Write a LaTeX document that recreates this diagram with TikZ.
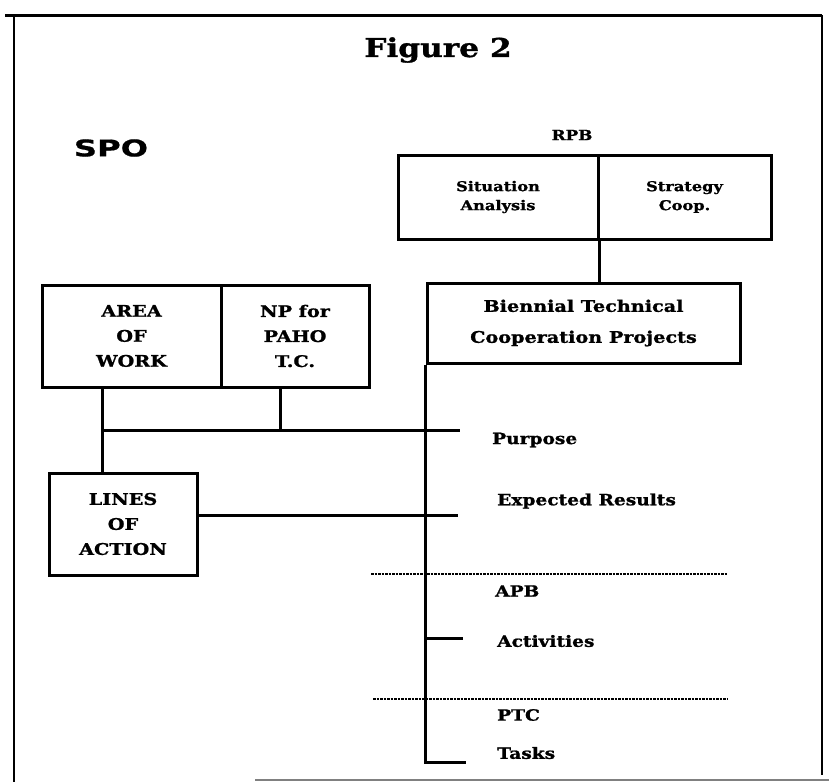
\documentclass[tikz,border=0pt]{standalone}
\usepackage{fontspec}
\setmainfont{DejaVu Serif}[FakeStretch=1.2, BoldFeatures={FakeBold=1.2}]
\newfontfamily\spofont{DejaVu Sans}[FakeStretch=1.4, BoldFeatures={FakeBold=0.8}]
\usetikzlibrary{positioning}
\tikzset{
  box/.style={draw, line width=3pt, align=center, inner sep=0pt, font=\bfseries\fontsize{16}{25}\selectfont},
  item/.style={anchor=west, inner sep=0pt, font=\bfseries\fontsize{15.5}{17}\selectfont},
  link/.style={line width=3pt},
  divider/.style={line width=2pt, dash pattern=on 2.5pt off 1pt},
}

\begin{document}
\begin{tikzpicture}[x=1pt, y=-1pt]
        \useasboundingbox (0,0) rectangle (829,782);

        % Frame
        \draw[line width=3pt] (5,15) -- (822,15);
        \draw[line width=2.2pt] (14,15) -- (14,782);
        \draw[line width=1.4pt] (822,15) -- (822,775);
        \draw[line width=1.5pt, gray] (255,780) -- (829,780);

        % Headings
        \node (title) at (438,50) [font=\bfseries\fontsize{26}{30}\selectfont] {Figure 2};
        \node (spo) at (111,148) [font=\spofont\bfseries\fontsize{23}{26}\selectfont] {SPO};
        \node (rpb) at (572,135) [font=\bfseries\fontsize{14}{15}\selectfont] {RPB};

        % Boxes
        \node (sit) at (498,197) [box, minimum width=200pt, minimum height=84pt, font=\bfseries\fontsize{13.5}{19}\selectfont] {Situation\\Analysis};
        \node (strat) at (684.5,197) [box, minimum width=173pt, minimum height=84pt, font=\bfseries\fontsize{13.5}{19}\selectfont] {Strategy\\Coop.};
        \node (btcp) at (583.5,323) [box, minimum width=313pt, minimum height=80pt, font=\bfseries\fontsize{16}{31}\selectfont] {Biennial Technical\\Cooperation Projects};
        \node (area) at (131.5,336) [box, minimum width=179pt, minimum height=102pt] {AREA\\OF\\WORK};
        \node (np) at (295,336) [box, minimum width=148pt, minimum height=102pt] {NP for\\PAHO\\T.C.};
        \node (lines) at (123,524) [box, minimum width=148pt, minimum height=102pt] {LINES\\OF\\ACTION};

        % Labels
        \node (purpose) at (492,440) [item] {Purpose};
        \node (results) at (497,501) [item] {Expected Results};
        \node (apb) at (495,591) [item] {APB};
        \node (activities) at (497,641) [item] {Activities};
        \node (ptc) at (497,715) [item] {PTC};
        \node (tasks) at (497,753) [item] {Tasks};

        % Junctions
        \coordinate (j1) at (102,430);
        \coordinate (j2) at (280,430);
        \coordinate (pend) at (460,430);
        \coordinate (rend) at (458,515);
        \coordinate (aend) at (463,638);
        \coordinate (tend) at (466,762);

        % Links
        \draw[link] (sit.south east) -- (sit.south east |- btcp.north);
        \draw[link] (btcp.south west) -- (btcp.south west |- tend) -- (tend);
        \draw[link] (j1 |- area.south) -- (j1 |- lines.north);
        \draw[link] (j2 |- np.south) -- (j2);
        \draw[link] (j1) -- (pend);
        \draw[link] (lines.east |- rend) -- (rend);
        \draw[link] (btcp.south west |- aend) -- (aend);

        % Separators
        \draw[divider] (371,574) -- (727,574);
        \draw[divider] (373,699) -- (728,699);

    \end{tikzpicture}
\end{document}
